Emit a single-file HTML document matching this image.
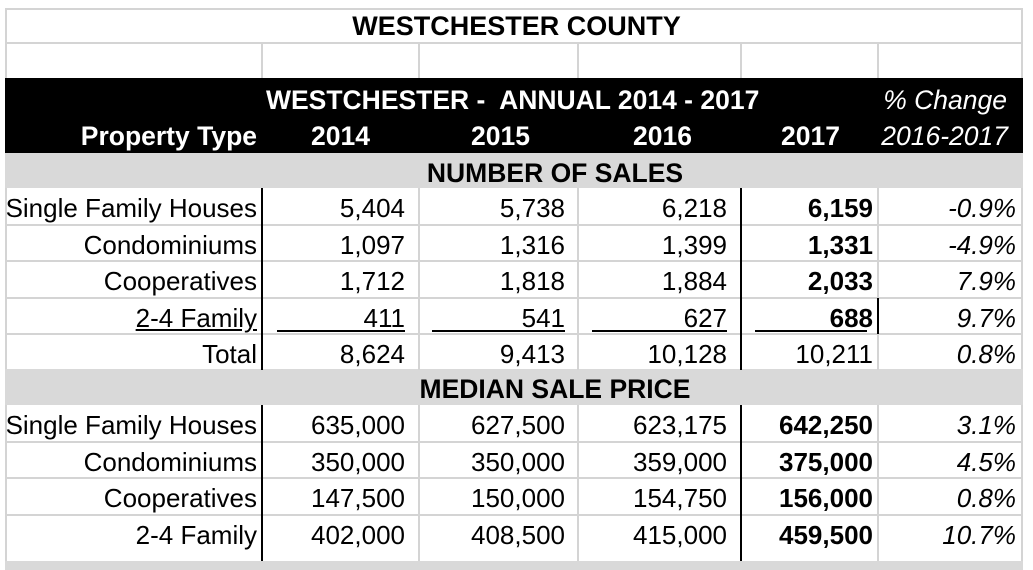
<!DOCTYPE html>
<html><head><meta charset="utf-8"><style>
body{margin:0;width:1033px;height:570px;background:#fff;position:relative;overflow:hidden;font-family:"Liberation Sans",Arial,sans-serif;color:#000}
.a{position:absolute;box-sizing:border-box}
.t{position:absolute;white-space:nowrap;font-size:26px;line-height:36px}
.vl{position:absolute;width:2px;background:#d4d4d4}
.hl{position:absolute;height:2px;background:#d4d4d4;left:5px;width:1018px}
</style></head><body>
<div class="a" style="left:5px;top:8px;width:1018px;height:562px;border:2px solid #d4d4d4;border-bottom:none"></div>
<div class="t" style="left:5px;width:1023px;top:8px;text-align:center;font-weight:bold;font-size:27px">WESTCHESTER COUNTY</div>
<div class="hl" style="top:42px"></div>
<div class="a" style="left:5px;top:78px;width:1018px;height:75px;background:#000"></div>
<div class="t" style="left:266px;top:82px;color:#fff;font-weight:bold;font-size:26.5px">WESTCHESTER -&nbsp; ANNUAL 2014 - 2017</div>
<div class="t" style="right:26px;top:82px;color:#fff;font-style:italic;font-size:26.5px">% Change</div>
<div class="a" style="left:5px;top:153px;width:1018px;height:35px;background:#d9d9d9"></div>
<div class="t" style="left:5px;width:1100px;top:155px;text-align:center;font-weight:bold;font-size:26.5px;line-height:36px">NUMBER OF SALES</div>
<div class="a" style="left:5px;top:369px;width:1018px;height:36px;background:#d9d9d9"></div>
<div class="t" style="left:5px;width:1100px;top:371px;text-align:center;font-weight:bold;font-size:26.5px">MEDIAN SALE PRICE</div>
<div class="a" style="left:5px;top:561px;width:1018px;height:9px;background:#d9d9d9"></div>
<script>
const headers=["Property Type","2014","2015","2016","2017","2016-2017"];
const types=["Single Family Houses","Condominiums","Cooperatives","2-4 Family"];
const sales2014=["5,404","1,097","1,712","411","8,624"];
const sales2015=["5,738","1,316","1,818","541","9,413"];
const sales2016=["6,218","1,399","1,884","627","10,128"];
const sales2017=["6,159","1,331","2,033","688","10,211"];
const salesChg=["-0.9%","-4.9%","7.9%","9.7%","0.8%"];
const med2014=["635,000","350,000","147,500","402,000"];
const med2015=["627,500","350,000","150,000","408,500"];
const med2016=["623,175","359,000","154,750","415,000"];
const med2017=["642,250","375,000","156,000","459,500"];
const medChg=["3.1%","4.5%","0.8%","10.7%"];

const B=document.body;
const colR=[257,405,565,727,873,1016];
const colL=[262,419,578,741,878];
function txt(s,right,top,name,style){
  const d=document.createElement('div');d.className='t';d.textContent=s;
  d.style.right=(1033-right)+'px';d.style.top=top+'px';
  if(style)d.style.cssText+=style;
  
  
  B.appendChild(d);return d;
}
function vline(x,y1,y2,black){
  const d=document.createElement('div');d.className='vl';
  d.style.left=(x-1)+'px';d.style.top=y1+'px';d.style.height=(y2-y1)+'px';
  if(black){d.style.background='#000';}
  
  
  B.appendChild(d);
}
function hline(y){
  const d=document.createElement('div');d.className='hl';d.style.top=y+'px';
  
  
  B.appendChild(d);
}
headers.forEach((h,i)=>{
  const st='color:#fff;font-weight:bold;font-size:26.5px;'+(i===5?'font-weight:normal;font-style:italic;':'');
  const r=[257,370,530,692,840,1008][i];
  txt(h,r,118,'header-'+h.toLowerCase().replace(/[^a-z0-9]+/g,'-'),st);
});
colL.forEach(x=>vline(x,43,78,false));
const rowH=36.5;
function section(top,labels,cols,chg,n,pref){
  for(let i=0;i<n;i++){
    const y=Math.round(top+i*rowH);
    if(i>0)hline(y-1);
    const ty=y+2;
    const lab=txt(labels[i],colR[0],ty,pref+'-label-'+i);
    if(pref==='sales'&&i===3)lab.style.textDecoration='underline';
    cols.forEach((c,j)=>{
      const st=(j===3&&!(pref==='sales'&&i===4))?'font-weight:bold;':'';
      txt(c[i],colR[j+1],ty,pref+'-value-'+j+'-'+i,st);
    });
    txt(chg[i],colR[5],ty,pref+'-change-'+i,'font-style:italic;');
  }
}
section(188,types.concat(["Total"]),[sales2014,sales2015,sales2016,sales2017],salesChg,5,'sales');
section(405,types,[med2014,med2015,med2016,med2017],medChg,4,'median');
[[188,370],[405,561]].forEach(([a,b])=>{
  vline(262,a,b,true);vline(741,a,b,true);
  vline(419,a,b,false);vline(578,a,b,false);vline(878,a,b,false);
});
vline(878,298,334,true);
[[277,405],[432,565],[592,727],[755,867]].forEach(([a,b])=>{
  const d=document.createElement('div');d.className='a';
  d.style.cssText='left:'+a+'px;top:330px;width:'+(b-a)+'px;height:2px;background:#000';
  
  
  B.appendChild(d);
});
</script>
</body></html>
